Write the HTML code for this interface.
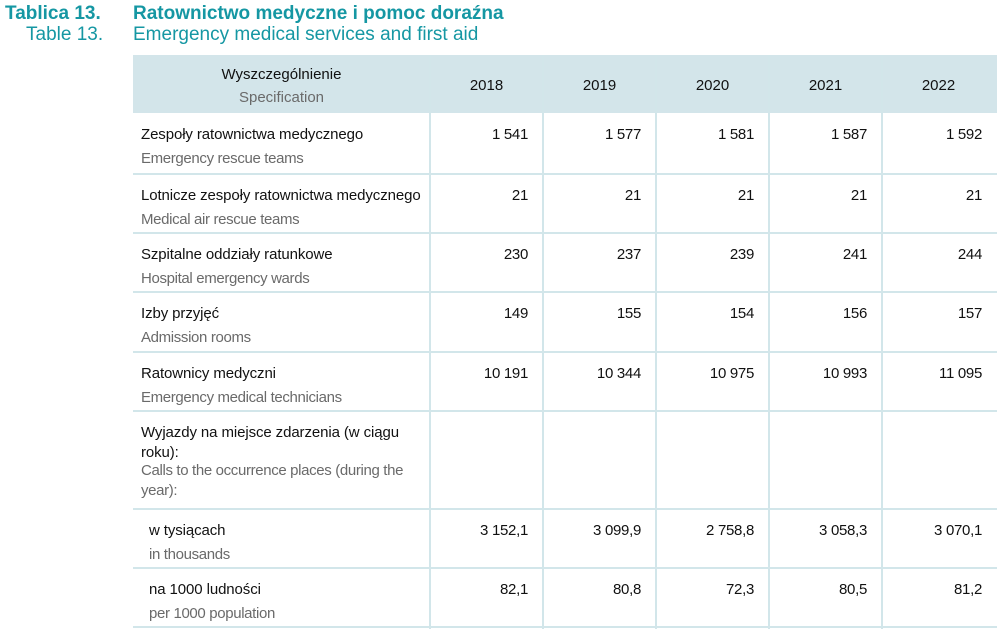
<!DOCTYPE html>
<html><head><meta charset="utf-8"><style>
body{margin:0;width:1000px;height:632px;background:#fff;font-family:"Liberation Sans",sans-serif;position:relative;overflow:hidden}
.a{position:absolute;white-space:nowrap}
.t{color:#1597a3}
.pl{font-size:15px;color:#111;letter-spacing:-0.1px}
.en{font-size:15px;color:#6a6a6a;letter-spacing:-0.35px}
.v{font-size:15px;color:#111;text-align:right;width:100px;letter-spacing:-0.3px}
.h{font-size:15px;color:#111;text-align:center;width:113px}
.hl{position:absolute;left:133px;width:864px;height:2px;background:#d2e6ea}
.vl{position:absolute;width:2px;top:55px;height:574px;background:#d2e6ea}
</style></head><body>
<div class="a t" style="left:5px;top:3px;font-size:19px;font-weight:bold">Tablica 13.</div>
<div class="a t" style="left:26px;top:24px;font-size:19px">Table 13.</div>
<div class="a t" style="left:133px;top:3px;font-size:19px;font-weight:bold">Ratownictwo medyczne i pomoc doraźna</div>
<div class="a t" style="left:133px;top:24px;font-size:19px">Emergency medical services and first aid</div>
<div class="a" style="left:133px;top:55px;width:864px;height:58px;background:#d3e5ea"></div>
<div class="a h" style="left:133px;width:297px;top:66px">Wyszczególnienie</div>
<div class="a h" style="left:133px;width:297px;top:89px;color:#6a6a6a">Specification</div>
<script>
const years=["2018","2019","2020","2021","2022"];
const labelsPl=["Zespoły ratownictwa medycznego","Lotnicze zespoły ratownictwa medycznego","Szpitalne oddziały ratunkowe","Izby przyjęć","Ratownicy medyczni","Wyjazdy na miejsce zdarzenia (w ciągu<br>roku):","w tysiącach","na 1000 ludności"];
const labelsEn=["Emergency rescue teams","Medical air rescue teams","Hospital emergency wards","Admission rooms","Emergency medical technicians","Calls to the occurrence places (during the<br>year):","in thousands","per 1000 population"];
const values=[["1 541","1 577","1 581","1 587","1 592"],["21","21","21","21","21"],["230","237","239","241","244"],["149","155","154","156","157"],["10 191","10 344","10 975","10 993","11 095"],["","","","",""],["3 152,1","3 099,9","2 758,8","3 058,3","3 070,1"],["82,1","80,8","72,3","80,5","81,2"]];
const rowTops=[113,174,233,292,352,411,509,568,627];
const colX=[430,543,656,769,882,997];
const b=document.body;
function add(cls,style,html,name){const d=document.createElement('div');d.className='a '+cls;d.style.cssText=style;d.innerHTML=html;


b.appendChild(d);return d;}
years.forEach((y,i)=>{add('h','left:'+colX[i]+'px;top:77px',y,'header-year-'+y);});
for(let c=0;c<5;c++){const l=document.createElement('div');l.className='vl';l.style.left=(colX[c]-1)+'px';


b.appendChild(l);}
labelsPl.forEach((p,r)=>{
  const top=rowTops[r];const ind=(r>=6)?16:8;
  const multi=r===5;
  add('pl','left:'+(133+ind)+'px;top:'+(top+12)+'px;line-height:20px',p,'row-label-'+r);
  add('en','left:'+(133+ind)+'px;top:'+(top+(multi?50:36))+'px;line-height:20px',labelsEn[r],'row-label-en-'+r);
  values[r].forEach((v,c)=>{add('v','left:'+(colX[c+1]-115)+'px;top:'+(top+12)+'px;line-height:20px',v,'cell-'+r+'-'+years[c]);});
  const l=document.createElement('div');l.className='hl';l.style.top=(rowTops[r+1]-1)+'px';
  
  
  b.appendChild(l);
});
</script>
</body></html>
